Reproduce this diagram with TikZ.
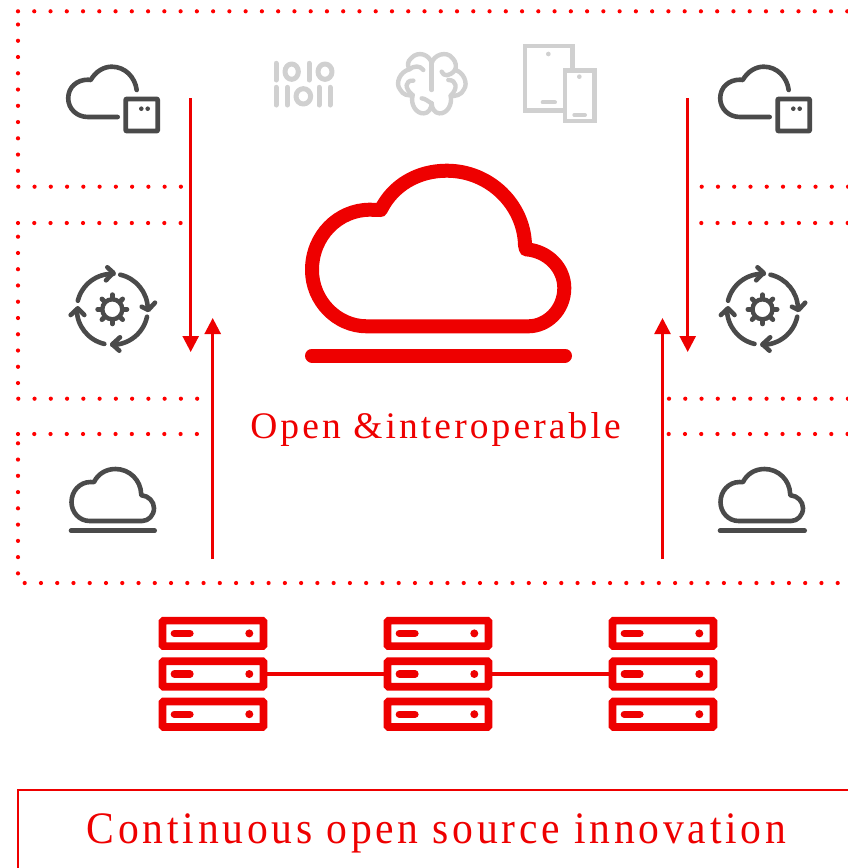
\documentclass[tikz,border=0pt]{standalone}
\usepackage{fontspec}
\setmainfont{Liberation Serif}
\usetikzlibrary{arrows.meta}
\definecolor{ored}{RGB}{238,0,0}
\definecolor{dotred}{RGB}{255,0,0}
\definecolor{dgrey}{RGB}{74,74,74}
\definecolor{lgrey}{RGB}{208,208,208}
\tikzset{
  dotline/.style={dotred,line width=4.2pt,line cap=round,dash pattern=on 0pt off 16.26pt},
  flow/.style={ored,line width=2.6pt,-{Triangle[length=16pt,width=16pt]}},
  icon/.style={line width=4.6pt,line cap=round,line join=round,draw=dgrey},
  glicon/.style={line width=4.4pt,line cap=round,line join=round,draw=lgrey},
  rack/.style={draw=ored,line width=7.6pt,rounded corners=1pt,minimum width=101pt,minimum height=25.5pt,inner sep=0pt,fill=white},
  link/.style={ored,line width=4pt},
  pics/rackbar/.style={code={
    \draw[ored,line width=7.3pt,line cap=round] (-38.7,0)--(-23,0);
    \fill[ored] (36.3,0) circle (4);
  }},
  pics/cloudbox/.style={code={
    \draw[icon] (51.7,52)--(22,52) .. controls (11,52) and (2.2,44) .. (2.2,33.3) .. controls (2.2,22) and (11,14.7) .. (22,14.7) -- (24.7,15) .. controls (30,6) and (38,1.7) .. (45.7,1.7) .. controls (59,1.7) and (69,12) .. (70.7,25);
    \draw[icon,rounded corners=0.5pt] (59.7,34) rectangle (91.7,66);
    \fill[dgrey] (75.3,43.7) circle (2.3) (81.7,43.7) circle (2.3);
  }},
  pics/cyclegear/.style={code={
    \begin{scope}[icon]
    \draw (194:35.5) arc (194:272:35.5);
    \draw (-5,-42)--(1,-36.6)--(-6.3,-29);
    \draw (283:35.5) arc (283:358:35.5);
    \draw (29.4,-2.6)--(36,0.7)--(42.7,-6.6);
    \draw (12:35.5) arc (12:90:35.5);
    \draw (7.7,28)--(0,35)--(7,41.4);
    \draw (103:35.5) arc (103:180:35.5);
    \draw (-41.6,5.7)--(-34.5,-1)--(-28,5.7);
    \end{scope}
  }},
  pics/gearhub/.style={code={
    \draw[dgrey,line width=4.4pt] (0,0) circle (10);
    \foreach \a in {0,45,...,315}{\draw[dgrey,line width=4.8pt,line cap=round] (\a:11)--(\a:14.6);}
  }},
  pics/bigcloud/.style={code={
    \draw[line join=round,#1] (54.7,155.6) .. controls (25,155.6) and (0,130.3) .. (0,99.3) .. controls (0,65.3) and (26,39) .. (58,39) -- (68.7,39.3) .. controls (81,14.3) and (106,0) .. (134.7,0) .. controls (178,0) and (212,34.3) .. (213,74.3) -- (214,78.6) .. controls (236,80.3) and (252.3,97.3) .. (252.3,117.3) .. controls (252.3,139.3) and (235,155.6) .. (216.3,155.6) -- cycle;
  }}
}
\begin{document}
\begin{tikzpicture}[x=1pt,y=-1pt]
\useasboundingbox (0,0) rectangle (848,868);
% dotted frame
\coordinate (tl) at (18,11.3);
\coordinate (tr) at (852,11.3);
\coordinate (bs) at (24.7,583);
\coordinate (br) at (852,583);
\draw[dotline] (tl)--(tr);
\draw[dotline] (bs)--(br);
\coordinate (v1a) at (18,24.5); \coordinate (v1b) at (18,172);
\coordinate (v2a) at (18,236.7); \coordinate (v2b) at (18,384);
\coordinate (v3a) at (18,443.3); \coordinate (v3b) at (18,575);
\coordinate (a1) at (18.3,186.7); \coordinate (a2) at (183,186.7);
\coordinate (b1) at (18,223); \coordinate (b2) at (183,223);
\coordinate (c1) at (18.3,398.7); \coordinate (c2) at (199,398.7);
\coordinate (d1) at (18,434); \coordinate (d2) at (199,434);
\coordinate (e1) at (701.7,186.7); \coordinate (e2) at (852,186.7);
\coordinate (f1) at (701.3,223); \coordinate (f2) at (852,223);
\coordinate (g1) at (669,398.7); \coordinate (g2) at (852,398.7);
\coordinate (h1) at (668.7,434); \coordinate (h2) at (852,434);
\foreach \p/\q in {v1a/v1b,v2a/v2b,v3a/v3b,a1/a2,b1/b2,c1/c2,d1/d2,e1/e2,f1/f2,g1/g2,h1/h2}{\draw[dotline] (\p)--(\q);}
% side icons
\pic at (66,65) {cloudbox};
\pic at (718,65) {cloudbox};
\pic at (112.3,309.3) {cyclegear};
\pic at (112.3,309.3) {gearhub};
\pic at (762.5,309.3) {cyclegear};
\pic at (762.5,309.3) {gearhub};
\pic[xscale=.327,yscale=.334] at (71.5,469) {bigcloud={icon}};
\pic[xscale=.327,yscale=.334] at (720.5,469) {bigcloud={icon}};
\coordinate (p1) at (71,530.7); \coordinate (p2) at (154.7,530.7);
\coordinate (q1) at (720,530.7); \coordinate (q2) at (804.7,530.7);
\draw[icon] (p1)--(p2);
\draw[icon] (q1)--(q2);
% arrows
\coordinate (s1) at (190.7,98); \coordinate (e1a) at (190.7,352);
\coordinate (s2) at (212.7,559); \coordinate (e2a) at (212.7,318);
\coordinate (s3) at (687.7,98); \coordinate (e3a) at (687.7,352);
\coordinate (s4) at (662.5,559); \coordinate (e4a) at (662.5,318);
\draw[flow] (s1)--(e1a);
\draw[flow] (s2)--(e2a);
\draw[flow] (s3)--(e3a);
\draw[flow] (s4)--(e4a);
% grey icons, drawn on a 3x grid from (250,30)
\begin{scope}[shift={(250,30)},scale=1/3]
\begin{scope}[glicon,line width=5pt]
\draw (78,100)--(78,150);
\draw (125,125) ellipse (20 and 23);
\draw (177,100)--(177,150);
\draw (225,125) ellipse (21 and 23);
\draw (78,172)--(78,225);
\draw (112,172)--(112,225);
\draw (160,199) ellipse (22 and 23);
\draw (207,172)--(207,225);
\draw (240,172)--(240,225);
\end{scope}
\begin{scope}[glicon]
\draw (545,100)--(545,180);
\draw (545,100) .. controls (540,75) and (505,60) .. (483,85) .. controls (472,95) and (472,105) .. (478,118) .. controls (450,125) and (435,160) .. (450,178) .. controls (458,195) and (475,198) .. (488,195) .. controls (480,225) and (500,252) .. (522,250) .. controls (535,250) and (545,235) .. (545,220);
\draw (545,100) .. controls (550,75) and (590,60) .. (608,85) .. controls (618,95) and (620,110) .. (615,120) .. controls (640,125) and (655,160) .. (642,178) .. controls (635,195) and (615,200) .. (602,197) .. controls (608,225) and (590,252) .. (568,250) .. controls (555,250) and (545,235) .. (545,220);
\draw (478,118) .. controls (490,108) and (510,105) .. (520,120);
\draw (488,195) .. controls (462,175) and (465,150) .. (490,152);
\draw (575,125) .. controls (580,140) and (600,140) .. (615,120);
\draw (595,150) .. controls (620,150) and (625,175) .. (602,197);
\draw (515,205) .. controls (525,205) and (535,215) .. (545,220);
\end{scope}
\begin{scope}[glicon,line cap=butt,line join=miter]
\draw (940,241)--(825,241)--(825,48)--(968,48)--(968,115);
\draw (945,122) rectangle (1033,273);
\end{scope}
\fill[lgrey] (895,72) circle (7) (988,140) circle (7);
\draw[glicon,line width=4pt] (878,217)--(915,217);
\draw[glicon,line width=4pt] (973,255)--(1005,255);
\end{scope}
% main cloud
\pic at (312,170.7) {bigcloud={ored,line width=14pt}};
\coordinate (u1) at (312,355.5); \coordinate (u2) at (565,355.5);
\draw[ored,line width=14pt,line cap=round] (u1)--(u2);
% main label
\node[ored,font=\fontsize{37.5pt}{40pt}\selectfont,inner sep=0pt,anchor=base] (lbl) at (435.5,438.8) {\addfontfeature{LetterSpace=8.3}Open \&interoperable};
% racks
\foreach \n/\x in {l/213,m/438,r/663}{
  \foreach \k/\y in {t/633.4,c/674,b/714.2}{
    \node[rack] (\n\k) at (\x,\y) {};
    \pic at (\x,\y) {rackbar};
  }
}
\draw[link] (lc.east)--(mc.west);
\draw[link] (mc.east)--(rc.west);
% bottom box
\coordinate (bx1) at (18,868); \coordinate (bx2) at (18,790); \coordinate (bx3) at (848,790);
\draw[ored,line width=1.8pt] (bx1)--(bx2)--(bx3);
\node[ored,font=\fontsize{45pt}{48pt}\selectfont,inner sep=0pt,anchor=base] (ttl) at (436.5,843.7) {\addfontfeature{FakeStretch=0.925,LetterSpace=8.3}Continuous open source innovation};
\end{tikzpicture}
\end{document}
